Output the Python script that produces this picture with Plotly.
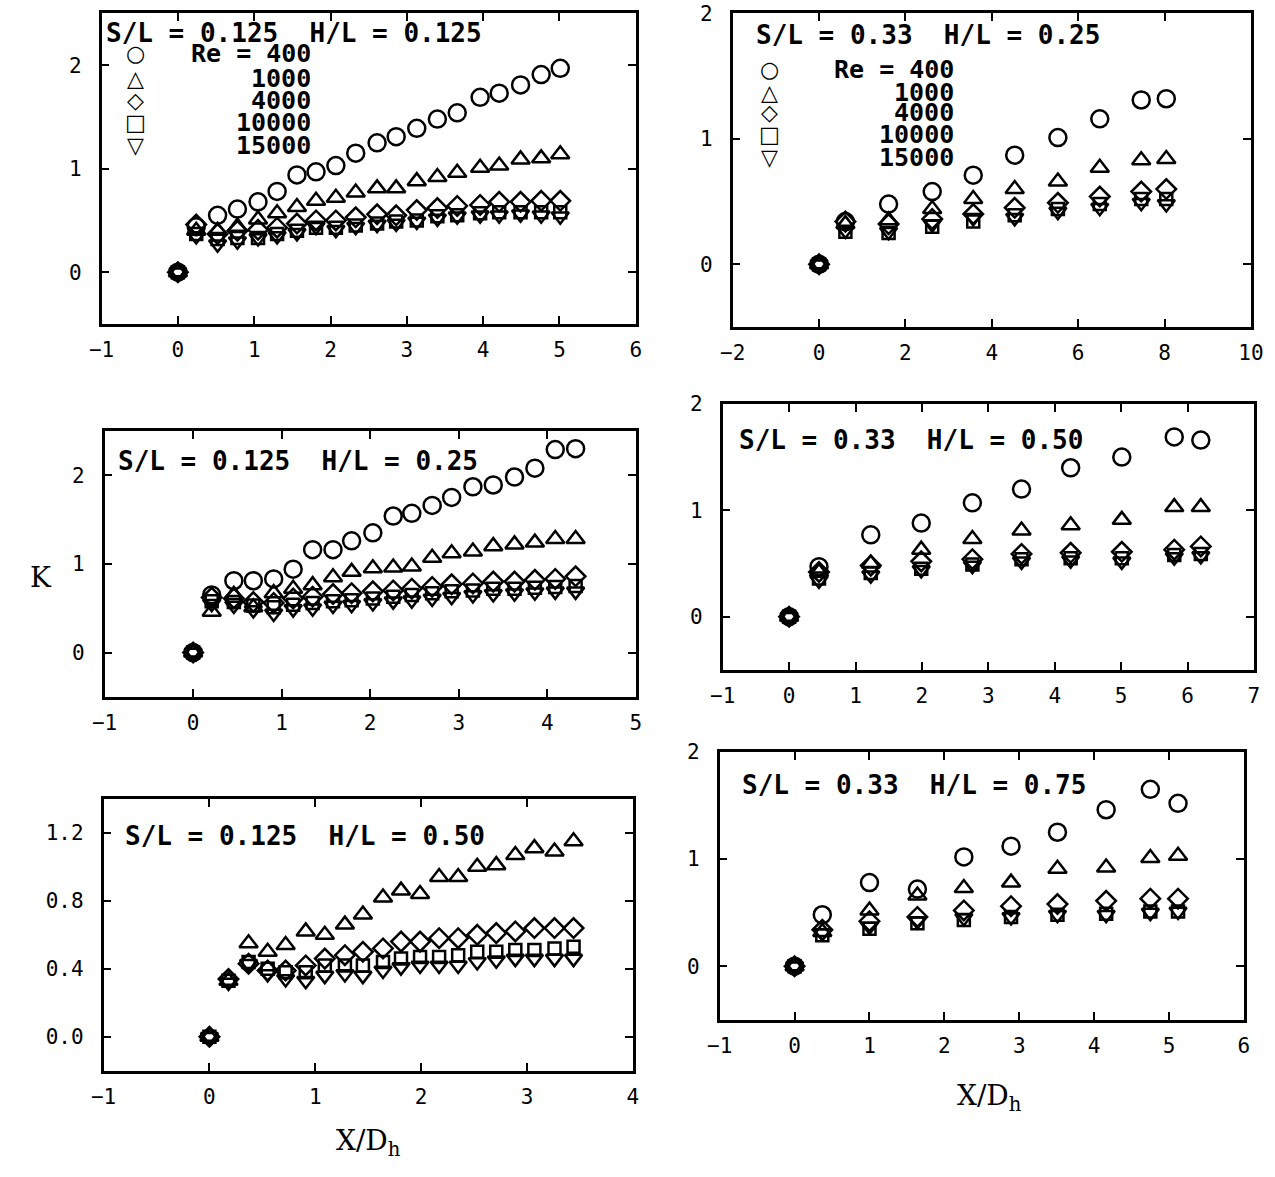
import plotly.graph_objects as go

W, H = 1275, 1177

# ---------------- data ----------------
re_labels = ["400", "1000", "4000", "10000", "15000"]

# Panel 1: S/L = 0.125, H/L = 0.125
p1_x = [0, 0.24, 0.52, 0.78, 1.05, 1.30, 1.56, 1.81, 2.07, 2.33, 2.61, 2.86, 3.13, 3.40, 3.66, 3.96, 4.21, 4.49, 4.76, 5.01]
p1_re400 = [0, 0.44, 0.55, 0.61, 0.68, 0.78, 0.94, 0.97, 1.03, 1.15, 1.25, 1.31, 1.39, 1.48, 1.54, 1.69, 1.73, 1.81, 1.91, 1.97]
p1_re1000 = [0, 0.40, 0.40, 0.44, 0.51, 0.57, 0.63, 0.69, 0.72, 0.77, 0.81, 0.81, 0.88, 0.92, 0.96, 1.01, 1.03, 1.09, 1.10, 1.14]
p1_re4000 = [0, 0.46, 0.37, 0.40, 0.41, 0.43, 0.47, 0.50, 0.50, 0.53, 0.56, 0.55, 0.60, 0.62, 0.64, 0.65, 0.68, 0.68, 0.69, 0.69]
p1_re10000 = [0, 0.37, 0.32, 0.33, 0.33, 0.37, 0.40, 0.43, 0.43, 0.45, 0.47, 0.49, 0.50, 0.54, 0.55, 0.57, 0.58, 0.58, 0.58, 0.58]
p1_re15000 = [0, 0.35, 0.27, 0.30, 0.33, 0.35, 0.38, 0.44, 0.41, 0.44, 0.46, 0.47, 0.49, 0.52, 0.54, 0.55, 0.55, 0.56, 0.55, 0.54]

# Panel 2: S/L = 0.33, H/L = 0.25
p2_x = [0, 0.61, 1.61, 2.62, 3.57, 4.53, 5.53, 6.50, 7.46, 8.04]
p2_re400 = [0, 0.34, 0.48, 0.58, 0.71, 0.87, 1.01, 1.16, 1.31, 1.32]
p2_re1000 = [0, 0.32, 0.35, 0.44, 0.52, 0.60, 0.66, 0.77, 0.83, 0.84]
p2_re4000 = [0, 0.34, 0.32, 0.36, 0.40, 0.45, 0.49, 0.54, 0.58, 0.60]
p2_re10000 = [0, 0.26, 0.25, 0.30, 0.34, 0.39, 0.44, 0.48, 0.52, 0.52]
p2_re15000 = [0, 0.27, 0.26, 0.32, 0.37, 0.37, 0.42, 0.45, 0.49, 0.48]

# Panel 3: S/L = 0.125, H/L = 0.25
p3_x = [0, 0.21, 0.46, 0.68, 0.91, 1.13, 1.35, 1.58, 1.79, 2.03, 2.26, 2.47, 2.70, 2.92, 3.16, 3.39, 3.63, 3.86, 4.09, 4.32]
p3_re400 = [0, 0.65, 0.81, 0.81, 0.83, 0.94, 1.16, 1.16, 1.26, 1.35, 1.54, 1.57, 1.66, 1.75, 1.87, 1.89, 1.98, 2.08, 2.29, 2.30]
p3_re1000 = [0, 0.46, 0.65, 0.51, 0.67, 0.72, 0.76, 0.85, 0.91, 0.95, 0.96, 0.97, 1.07, 1.12, 1.14, 1.20, 1.22, 1.24, 1.28, 1.28]
p3_re4000 = [0, 0.62, 0.61, 0.57, 0.56, 0.61, 0.63, 0.66, 0.67, 0.69, 0.70, 0.72, 0.74, 0.77, 0.78, 0.80, 0.80, 0.82, 0.83, 0.86]
p3_re10000 = [0, 0.58, 0.57, 0.53, 0.51, 0.54, 0.56, 0.58, 0.59, 0.61, 0.63, 0.65, 0.67, 0.69, 0.70, 0.72, 0.72, 0.73, 0.74, 0.75]
p3_re15000 = [0, 0.55, 0.53, 0.48, 0.44, 0.49, 0.50, 0.53, 0.54, 0.56, 0.58, 0.59, 0.61, 0.63, 0.65, 0.66, 0.67, 0.68, 0.69, 0.69]

# Panel 4: S/L = 0.33, H/L = 0.50
p4_x = [0, 0.45, 1.23, 1.99, 2.76, 3.50, 4.24, 5.01, 5.80, 6.20]
p4_re400 = [0, 0.47, 0.77, 0.88, 1.07, 1.20, 1.40, 1.50, 1.69, 1.66]
p4_re1000 = [0, 0.42, 0.50, 0.63, 0.73, 0.81, 0.86, 0.91, 1.03, 1.03]
p4_re4000 = [0, 0.42, 0.48, 0.52, 0.54, 0.59, 0.60, 0.61, 0.63, 0.66]
p4_re10000 = [0, 0.36, 0.41, 0.45, 0.49, 0.54, 0.55, 0.55, 0.58, 0.59]
p4_re15000 = [0, 0.34, 0.39, 0.44, 0.48, 0.52, 0.53, 0.52, 0.56, 0.57]

# Panel 5: S/L = 0.125, H/L = 0.50 (no Re = 400 data)
p5_x = [0, 0.18, 0.37, 0.55, 0.72, 0.91, 1.09, 1.28, 1.45, 1.64, 1.81, 1.99, 2.17, 2.35, 2.53, 2.71, 2.89, 3.07, 3.26, 3.44]
p5_re400 = None
p5_re1000 = [0, 0.33, 0.55, 0.50, 0.54, 0.62, 0.60, 0.66, 0.72, 0.82, 0.86, 0.84, 0.94, 0.94, 1.00, 1.01, 1.07, 1.11, 1.09, 1.15]
p5_re4000 = [0, 0.34, 0.43, 0.39, 0.39, 0.42, 0.46, 0.48, 0.50, 0.52, 0.56, 0.56, 0.58, 0.58, 0.60, 0.61, 0.62, 0.64, 0.64, 0.64]
p5_re10000 = [0, 0.33, 0.44, 0.40, 0.38, 0.38, 0.42, 0.42, 0.42, 0.44, 0.46, 0.47, 0.47, 0.48, 0.50, 0.50, 0.51, 0.51, 0.52, 0.53]
p5_re15000 = [0, 0.32, 0.43, 0.37, 0.34, 0.33, 0.36, 0.37, 0.36, 0.39, 0.41, 0.42, 0.42, 0.42, 0.44, 0.45, 0.46, 0.46, 0.46, 0.46]

# Panel 6: S/L = 0.33, H/L = 0.75
p6_x = [0, 0.37, 1.00, 1.64, 2.26, 2.89, 3.51, 4.16, 4.75, 5.12]
p6_re400 = [0, 0.48, 0.78, 0.72, 1.02, 1.12, 1.25, 1.46, 1.65, 1.52]
p6_re1000 = [0, 0.32, 0.52, 0.66, 0.73, 0.78, 0.91, 0.92, 1.01, 1.03]
p6_re4000 = [0, 0.34, 0.42, 0.46, 0.52, 0.56, 0.58, 0.61, 0.63, 0.63]
p6_re10000 = [0, 0.29, 0.35, 0.40, 0.43, 0.46, 0.48, 0.49, 0.51, 0.51]
p6_re15000 = [0, 0.31, 0.37, 0.42, 0.45, 0.46, 0.48, 0.48, 0.50, 0.51]

titles = ["S/L = 0.125  H/L = 0.125", "S/L = 0.33  H/L = 0.25",
          "S/L = 0.125  H/L = 0.25", "S/L = 0.33  H/L = 0.50",
          "S/L = 0.125  H/L = 0.50", "S/L = 0.33  H/L = 0.75"]

x_ticks = [list(range(-1, 7)), list(range(-2, 11, 2)), list(range(-1, 6)),
           list(range(-1, 8)), list(range(-1, 5)), list(range(-1, 7))]
y_ticks = [[0, 1, 2], [0, 1, 2], [0, 1, 2], [0, 1, 2], [0.0, 0.4, 0.8, 1.2], [0, 1, 2]]

# ---------------- layout / styling ----------------
# target pixel positions (in the final picture) -> paper fractions
OX, SX = 12.3, 0.981
OY, SY = 12.0, 0.99

def fx(r):
    return min(max(((r - OX) / SX) / W, 0.0), 1.0)

def fy(r):
    return min(max(1 - ((r - OY) / SY) / H, 0.0), 1 - 1.5 / H)

panels = [
    dict(x=p1_x, ys=[p1_re400, p1_re1000, p1_re4000, p1_re10000, p1_re15000],
         frame=(101, 636, 6, 324), xr=[-1, 6], yr=[-0.5, 2.5], fmt=None,
         head=(103, 33), legend=dict(sym_x=135, rows=[54, 79, 101, 123, 146], txt_x=313)),
    dict(x=p2_x, ys=[p2_re400, p2_re1000, p2_re4000, p2_re10000, p2_re15000],
         frame=(733, 1252, 7, 327), xr=[-2, 10], yr=[-0.5, 2], fmt=None,
         head=(754, 35), legend=dict(sym_x=770, rows=[70, 93, 113, 135, 158], txt_x=957)),
    dict(x=p3_x, ys=[p3_re400, p3_re1000, p3_re4000, p3_re10000, p3_re15000],
         frame=(104, 636, 431, 697), xr=[-1, 5], yr=[-0.5, 2.5], fmt=None,
         head=(115, 461), legend=None),
    dict(x=p4_x, ys=[p4_re400, p4_re1000, p4_re4000, p4_re10000, p4_re15000],
         frame=(723, 1255, 404, 670), xr=[-1, 7], yr=[-0.5, 2], fmt=None,
         head=(737, 440), legend=None),
    dict(x=p5_x, ys=[p5_re400, p5_re1000, p5_re4000, p5_re10000, p5_re15000],
         frame=(103, 633, 799, 1071), xr=[-1, 4], yr=[-0.2, 1.4], fmt=".1f",
         head=(122, 836), legend=None),
    dict(x=p6_x, ys=[p6_re400, p6_re1000, p6_re4000, p6_re10000, p6_re15000],
         frame=(720, 1245, 752, 1020), xr=[-1, 6], yr=[-0.5, 2], fmt=None,
         head=(740, 785), legend=None),
]

symbols = ["circle-open", "triangle-up-open", "diamond-open", "square-open", "triangle-down-open"]
sizes = [17, 16, 15, 12, 15]
legend_glyphs = ["○", "△", "◇", "□", "▽"]

MONO = "DejaVu Sans Mono"
SERIF = "DejaVu Serif"

fig = go.Figure()
annotations = []
layout_axes = {}

for i, p in enumerate(panels):
    n = i + 1
    xa = "x" if n == 1 else f"x{n}"
    ya = "y" if n == 1 else f"y{n}"
    for s, ys in enumerate(p["ys"]):
        if ys is None:
            continue
        fig.add_trace(go.Scatter(
            x=p["x"], y=ys, mode="markers", xaxis=xa, yaxis=ya,
            name=f"Re = {re_labels[s]}", showlegend=False,
            marker=dict(symbol=symbols[s], size=sizes[s], color="black",
                        line=dict(color="black", width=2.5)),
            cliponaxis=False,
        ))
    x0, x1, y0, y1 = p["frame"]
    common = dict(showgrid=False, zeroline=False, showline=True, linecolor="black",
                  linewidth=2.5, mirror="ticks", ticks="inside", ticklen=8, tickwidth=2,
                  tickcolor="black", tickfont=dict(family=MONO, size=21, color="black"))
    xkey = "xaxis" if n == 1 else f"xaxis{n}"
    ykey = "yaxis" if n == 1 else f"yaxis{n}"
    layout_axes[xkey] = dict(domain=[fx(x0), fx(x1)], range=p["xr"], anchor=ya,
                             tickvals=x_ticks[i], ticklabelstandoff=5, **common)
    ydict = dict(domain=[fy(y1), fy(y0)], range=p["yr"], anchor=xa,
                 tickvals=y_ticks[i], ticklabelstandoff=13, **common)
    if p["fmt"]:
        ydict["tickformat"] = p["fmt"]
    layout_axes[ykey] = ydict

    hx, hy = p["head"]
    annotations.append(dict(text=titles[i], x=fx(hx), y=fy(hy), xref="paper", yref="paper",
                            xanchor="left", yanchor="middle", showarrow=False,
                            font=dict(family=MONO, size=26, color="black", weight="bold")))
    lg = p["legend"]
    if lg:
        for r, yy in enumerate(lg["rows"]):
            annotations.append(dict(text=legend_glyphs[r], x=fx(lg["sym_x"]), y=fy(yy),
                                    xref="paper", yref="paper", xanchor="center", yanchor="middle",
                                    showarrow=False,
                                    font=dict(family="DejaVu Sans", size=22, color="black", weight="bold")))
            label = f"Re = {re_labels[r]}" if r == 0 else re_labels[r]
            annotations.append(dict(text=label, x=fx(lg["txt_x"]), y=fy(yy),
                                    xref="paper", yref="paper", xanchor="right", yanchor="middle",
                                    showarrow=False,
                                    font=dict(family=MONO, size=25, color="black", weight="bold")))

# axis titles
annotations.append(dict(text="K", x=fx(40), y=fy(578), xref="paper", yref="paper",
                        xanchor="center", yanchor="middle", showarrow=False,
                        font=dict(family=SERIF, size=28, color="black")))
annotations.append(dict(text="X/D<sub>h</sub>", x=fx(368), y=fy(1143), xref="paper", yref="paper",
                        xanchor="center", yanchor="middle", showarrow=False,
                        font=dict(family=SERIF, size=28, color="black")))
annotations.append(dict(text="X/D<sub>h</sub>", x=fx(990), y=fy(1098), xref="paper", yref="paper",
                        xanchor="center", yanchor="middle", showarrow=False,
                        font=dict(family=SERIF, size=28, color="black")))

fig.update_layout(
    width=W, height=H, margin=dict(l=0, r=0, t=0, b=0),
    paper_bgcolor="white", plot_bgcolor="white",
    showlegend=False, annotations=annotations, **layout_axes,
)

fig.write_html("out.html", config={"displayModeBar": False},
               post_script="document.body.style.margin='0';document.body.style.padding='0';")
